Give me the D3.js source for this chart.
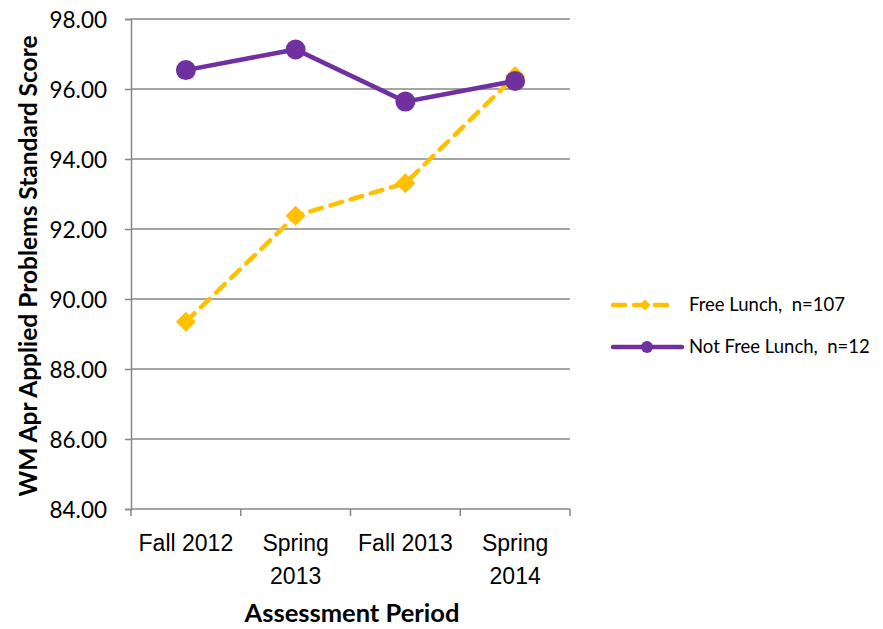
<!DOCTYPE html>
<html><head><meta charset="utf-8">
<script src="https://cdn.jsdelivr.net/npm/d3@7"></script>
<style>body{margin:0;background:#fff;} svg{display:block;font-family:Lato,"Open Sans",sans-serif;} text{white-space:pre;}</style>
</head><body>
<svg id="c" width="883" height="629"></svg>
<script>
const categories = [["Fall 2012"], ["Spring", "2013"], ["Fall 2013"], ["Spring", "2014"]];
const categoryKeys = ["Fall 2012", "Spring 2013", "Fall 2013", "Spring 2014"];
const freeLunch = [89.35, 92.38, 93.31, 96.37];
const notFreeLunch = [96.54, 97.13, 95.64, 96.23];
const yTicks = [84, 86, 88, 90, 92, 94, 96, 98];
const seriesNames = ["Free Lunch,  n=107", "Not Free Lunch,  n=12"];

const svg = d3.select("#c");
const m = {l:131, r:570, t:19, b:509};
const x = d3.scaleBand().domain(categoryKeys).range([m.l, m.r]);
const y = d3.scaleLinear().domain([84, 98]).range([m.b, m.t]);
const grid = "#878787";

// gridlines
svg.append("g").selectAll("line").data(yTicks.filter(d=>d>84)).join("line")
  .attr("x1", m.l).attr("x2", m.r).attr("y1", d=>y(d)).attr("y2", d=>y(d))
  .attr("stroke", grid).attr("stroke-width", 1.5);

// y axis
const ya = svg.append("g").attr("transform", `translate(${m.l},0)`)
  .call(d3.axisLeft(y).tickValues(yTicks).tickFormat(d3.format(".2f")).tickSize(6).tickPadding(18));
ya.select(".domain").attr("stroke", grid).attr("stroke-width", 1.5);
ya.selectAll(".tick line").attr("stroke", grid).attr("stroke-width", 1.5);
ya.selectAll("text").attr("font-size", 22.5).attr("fill", "#000").attr("font-family", "Lato").attr("dy", "0.36em");

// x axis
const xa = svg.append("g").attr("transform", `translate(0,${m.b})`)
  .call(d3.axisBottom(x).tickSize(0).tickFormat(""));
xa.select(".domain").remove();
xa.append("line").attr("x1", m.l).attr("x2", m.r).attr("stroke", grid).attr("stroke-width", 1.5);
xa.selectAll(".xt").data(d3.range(categoryKeys.length + 1)).join("line").attr("class","xt")
  .attr("x1", i=> m.l + i*x.step()).attr("x2", i=> m.l + i*x.step())
  .attr("y1", 0).attr("y2", 7).attr("stroke", grid).attr("stroke-width", 1.5);
xa.selectAll(".xl").data(categories).join("text").attr("class","xl")
  .attr("text-anchor","middle").attr("font-size", 23).attr("fill","#000")
  .attr("transform", (d,i)=>`translate(${x(categoryKeys[i]) + x.bandwidth()/2},0)`)
  .selectAll("tspan").data(d=>d).join("tspan")
  .attr("x", 0).attr("y", (d,i)=> 42 + i*33).text(d=>d);

// axis titles
svg.append("text").attr("transform", `translate(37,${(m.t+m.b)/2 + 2}) rotate(-90)`)
  .attr("text-anchor","middle").attr("font-weight","bold").attr("font-size", 24.5)
  .text("WM Apr Applied Problems Standard Score");
svg.append("text").attr("x", 352).attr("y", 622).attr("text-anchor","middle")
  .attr("font-weight","bold").attr("font-size", 25.5).text("Assessment Period");

const cx = (i)=> x(categoryKeys[i]) + x.bandwidth()/2;
const line = d3.line().x((d,i)=>cx(i)).y(d=>y(d));
const yellow = "#FFC000", purple = "#7030A0";

// Free lunch
svg.append("path").datum(freeLunch).attr("d", line).attr("fill","none")
  .attr("stroke", yellow).attr("stroke-width", 4.5).attr("stroke-dasharray","12,9").attr("stroke-linecap","round");
const diamond = d3.symbol().type(d3.symbolSquare).size(200);
svg.append("g").selectAll("path").data(freeLunch).join("path")
  .attr("d", diamond).attr("fill", yellow)
  .attr("transform", (d,i)=>`translate(${cx(i)},${y(d)}) rotate(45)`);

// Not free lunch
svg.append("path").datum(notFreeLunch).attr("d", line).attr("fill","none")
  .attr("stroke", purple).attr("stroke-width", 4.5);
svg.append("g").selectAll("circle").data(notFreeLunch).join("circle")
  .attr("cx", (d,i)=>cx(i)).attr("cy", d=>y(d)).attr("r", 10).attr("fill", purple);

// legend
const lg = svg.append("g");
const ly = [305, 347];
lg.append("line").attr("x1", 613).attr("x2", 676).attr("y1", ly[0]).attr("y2", ly[0])
  .attr("stroke", yellow).attr("stroke-width", 4.5).attr("stroke-dasharray","12,9").attr("stroke-linecap","round");
lg.append("path").attr("d", d3.symbol().type(d3.symbolSquare).size(60)).attr("fill", yellow)
  .attr("transform", `translate(645,${ly[0]}) rotate(45)`);
lg.append("line").attr("x1", 613).attr("x2", 682).attr("y1", ly[1]).attr("y2", ly[1])
  .attr("stroke", purple).attr("stroke-width", 4.5).attr("stroke-linecap","round");
lg.append("circle").attr("cx", 647).attr("cy", ly[1]).attr("r", 6).attr("fill", purple);
lg.selectAll("text").data(seriesNames).join("text")
  .attr("x", 689).attr("y", (d,i)=>ly[i]).attr("dy","0.35em").attr("font-size", 18.5)
  .attr("fill","#000").text(d=>d);
</script>
</body></html>
